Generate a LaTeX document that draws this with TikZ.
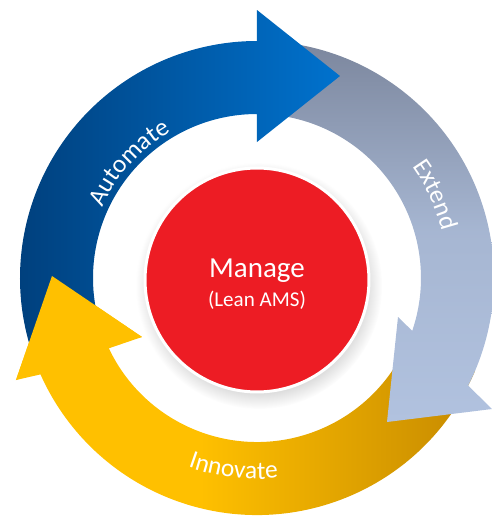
\documentclass[tikz,border=0pt]{standalone}
\usepackage{fontspec}
\setmainfont{Carlito}
\usetikzlibrary{shadows,decorations.text}

\definecolor{autodark}{RGB}{0,62,122}
\definecolor{autolight}{RGB}{0,114,206}
\definecolor{extdark}{RGB}{124,135,158}
\definecolor{extlight}{RGB}{177,194,223}
\definecolor{innolight}{RGB}{255,192,0}
\definecolor{innodark}{RGB}{198,138,0}
\definecolor{managered}{RGB}{237,28,36}

\pgfdeclarehorizontalshading{innoshade}{100bp}{color(0bp)=(innolight); color(25bp)=(innolight); color(45bp)=(innolight); color(75bp)=(innodark); color(100bp)=(innodark)}
\newcommand{\ringfont}{\fontsize{14.5}{14.5}\selectfont}

\tikzset{
  automate arrow/.style={left color=autodark, right color=autolight},
  extend arrow/.style={top color=extdark, bottom color=extlight, middle color=extlight!80!extdark},
  innovate arrow/.style={shading=innoshade},
  manage disc/.style={circle, fill=managered, draw=white, line width=1.7pt, minimum size=4.48cm, inner sep=0pt,
    circular drop shadow={shadow xshift=1pt, shadow yshift=-3pt, opacity=0.3}},
  ring label/.style={decorate, decoration={text along path, text align=center, text color=white, text={|\ringfont|#1}}}
}

\begin{document}
\begin{tikzpicture}[x=0.02cm, y=0.02cm]
\useasboundingbox (-257,-240) rectangle (234,278);

% the three arrows, yellow head put back on top at the end
\shade[innovate arrow] (337:237) arc[start angle=337, end angle=204, radius=237] -- (-241,-102) -- (-205,2) -- (-115,-59)
  -- (204:164) arc[start angle=204, end angle=337, radius=164] -- cycle;
\shade[extend arrow] (82:237) arc[start angle=82, end angle=-27, radius=237] -- (235,-131) -- (130,-144) -- (141,-39)
  -- (-18.8:164) arc[start angle=-18.8, end angle=82, radius=164] -- cycle;
\shade[automate arrow] (200:237) arc[start angle=200, end angle=90, radius=237] -- (0,268) -- (83,202) -- (0,136)
  -- (90:164) arc[start angle=90, end angle=200, radius=164] -- cycle;
\fill[innolight] (-241,-102) -- (-205,2) -- (-115,-59) -- cycle;

\node[manage disc] (manage) at (0,-2) {};
\node[anchor=base, text=white, font=\fontsize{16.5}{16.5}\selectfont] (mtitle) at (0,1) {Manage};
\node[anchor=base, text=white, font=\fontsize{12}{12}\selectfont] (msub) at (0,-28) {(Lean AMS)};

\path[ring label=Automate] (178:170) arc[start angle=178, end angle=98, radius=170];
\path[ring label=Extend] (65:191) arc[start angle=65, end angle=-15, radius=191];
\path[ring label=Innovate] (-137:201) arc[start angle=-137, end angle=-57, radius=201];
\end{tikzpicture}
\end{document}
